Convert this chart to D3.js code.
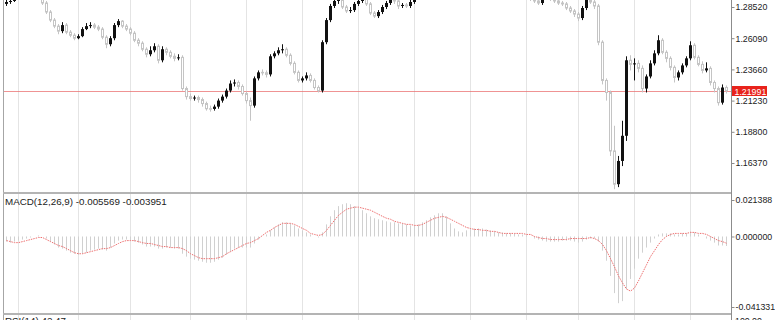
<!DOCTYPE html>
<html>
<head>
<meta charset="utf-8">
<script src="https://cdn.jsdelivr.net/npm/d3@7"></script>
<style>
  body { margin: 0; background: #fff; }
  svg { display: block; font-family: "Liberation Sans", Arial, sans-serif; }
</style>
</head>
<body>
<div id="chart"></div>
<script>
// daily candles, oldest -> newest
var opens = [
  1.2876, 1.2891, 1.2899, 1.2938, 1.2985, 1.3017, 1.3001, 1.3032, 1.2985, 1.2946,
  1.2883, 1.2813, 1.2750, 1.2703, 1.2664, 1.2711, 1.2656, 1.2632, 1.2609, 1.2625,
  1.2680, 1.2703, 1.2711, 1.2695, 1.2680, 1.2617, 1.2562, 1.2609, 1.2711, 1.2742,
  1.2703, 1.2680, 1.2648, 1.2593, 1.2570, 1.2523, 1.2484, 1.2515, 1.2546, 1.2437,
  1.2523, 1.2499, 1.2468, 1.2452, 1.2460, 1.2217, 1.2154, 1.2139, 1.2147, 1.2131,
  1.2100, 1.2060, 1.2058, 1.2076, 1.2123, 1.2154, 1.2201, 1.2256, 1.2264, 1.2233,
  1.2178, 1.2123, 1.2084, 1.2296, 1.2343, 1.2340, 1.2327, 1.2468, 1.2491, 1.2515,
  1.2523, 1.2476, 1.2413, 1.2343, 1.2280, 1.2296, 1.2319, 1.2280, 1.2225, 1.2201,
  1.2578, 1.2750, 1.2860, 1.2899, 1.2907, 1.2852, 1.2821, 1.2828, 1.2876, 1.2899,
  1.2915, 1.2876, 1.2805, 1.2781, 1.2813, 1.2852, 1.2883, 1.2907, 1.2899, 1.2860,
  1.2868, 1.2860, 1.2891, 1.2930, 1.2970, 1.3001, 1.3032, 1.3064, 1.3048, 1.3079,
  1.3025, 1.2985, 1.2938, 1.2930, 1.2977, 1.3017, 1.3056, 1.3095, 1.3072, 1.3111,
  1.3079, 1.3040, 1.3009, 1.3032, 1.2993, 1.2970, 1.3001, 1.2962, 1.2938, 1.2954,
  1.2930, 1.2923, 1.2915, 1.2899, 1.2883, 1.2923, 1.2938, 1.2915, 1.2899, 1.2883,
  1.2876, 1.2844, 1.2821, 1.2797, 1.2766, 1.2844, 1.2907, 1.2891, 1.2860, 1.2578,
  1.2280, 1.2186, 1.1731, 1.1472, 1.1653, 1.1849, 1.2437, 1.2405, 1.2413, 1.2374,
  1.2217, 1.2311, 1.2413, 1.2491, 1.2593, 1.2499, 1.2452, 1.2382, 1.2303, 1.2343,
  1.2397, 1.2452, 1.2554, 1.2460, 1.2405, 1.2358, 1.2374, 1.2264, 1.2217, 1.2107,
  1.2225
];
var highs = [
  1.2915, 1.2923, 1.2954, 1.3001, 1.3032, 1.3032, 1.3056, 1.3048, 1.3001, 1.2954,
  1.2899, 1.2828, 1.2766, 1.2719, 1.2734, 1.2727, 1.2672, 1.2648, 1.2640, 1.2695,
  1.2727, 1.2734, 1.2727, 1.2711, 1.2695, 1.2632, 1.2625, 1.2727, 1.2758, 1.2750,
  1.2719, 1.2695, 1.2664, 1.2609, 1.2585, 1.2538, 1.2546, 1.2570, 1.2562, 1.2546,
  1.2538, 1.2515, 1.2491, 1.2484, 1.2476, 1.2233, 1.2178, 1.2162, 1.2162, 1.2147,
  1.2115, 1.2084, 1.2092, 1.2139, 1.2170, 1.2217, 1.2280, 1.2288, 1.2280, 1.2249,
  1.2194, 1.2147, 1.2311, 1.2358, 1.2366, 1.2358, 1.2484, 1.2507, 1.2538, 1.2562,
  1.2538, 1.2491, 1.2429, 1.2358, 1.2311, 1.2343, 1.2335, 1.2296, 1.2241, 1.2593,
  1.2766, 1.2876, 1.2915, 1.2930, 1.2923, 1.2868, 1.2852, 1.2891, 1.2915, 1.2930,
  1.2930, 1.2891, 1.2821, 1.2828, 1.2868, 1.2899, 1.2923, 1.2923, 1.2915, 1.2883,
  1.2883, 1.2907, 1.2946, 1.2985, 1.3017, 1.3048, 1.3079, 1.3079, 1.3095, 1.3095,
  1.3040, 1.3001, 1.2954, 1.2993, 1.3032, 1.3072, 1.3111, 1.3111, 1.3126, 1.3126,
  1.3095, 1.3056, 1.3048, 1.3048, 1.3009, 1.3017, 1.3017, 1.2977, 1.2970, 1.2970,
  1.2946, 1.2938, 1.2930, 1.2915, 1.2938, 1.2954, 1.2954, 1.2930, 1.2915, 1.2899,
  1.2891, 1.2860, 1.2836, 1.2813, 1.2860, 1.2923, 1.2923, 1.2907, 1.2876, 1.2593,
  1.2296, 1.2201, 1.1927, 1.1692, 1.1966, 1.2468, 1.2476, 1.2452, 1.2437, 1.2397,
  1.2327, 1.2437, 1.2515, 1.2632, 1.2609, 1.2515, 1.2468, 1.2397, 1.2358, 1.2413,
  1.2468, 1.2585, 1.2570, 1.2476, 1.2429, 1.2421, 1.2390, 1.2280, 1.2233, 1.2249,
  1.2241
];
var lows = [
  1.2860, 1.2876, 1.2891, 1.2930, 1.2970, 1.2985, 1.2985, 1.2970, 1.2930, 1.2868,
  1.2797, 1.2734, 1.2687, 1.2640, 1.2648, 1.2640, 1.2617, 1.2593, 1.2601, 1.2617,
  1.2672, 1.2687, 1.2680, 1.2664, 1.2601, 1.2531, 1.2546, 1.2593, 1.2695, 1.2687,
  1.2664, 1.2632, 1.2578, 1.2546, 1.2507, 1.2460, 1.2468, 1.2499, 1.2413, 1.2421,
  1.2476, 1.2452, 1.2429, 1.2437, 1.2201, 1.2131, 1.2123, 1.2123, 1.2107, 1.2076,
  1.2045, 1.2037, 1.2045, 1.2060, 1.2107, 1.2139, 1.2186, 1.2233, 1.2209, 1.2162,
  1.2100, 1.1966, 1.2068, 1.2280, 1.2319, 1.2303, 1.2311, 1.2452, 1.2476, 1.2491,
  1.2460, 1.2397, 1.2327, 1.2264, 1.2264, 1.2280, 1.2264, 1.2209, 1.2186, 1.2186,
  1.2562, 1.2734, 1.2844, 1.2876, 1.2836, 1.2805, 1.2805, 1.2813, 1.2860, 1.2883,
  1.2860, 1.2789, 1.2766, 1.2766, 1.2797, 1.2836, 1.2868, 1.2876, 1.2836, 1.2844,
  1.2844, 1.2844, 1.2876, 1.2915, 1.2954, 1.2985, 1.3017, 1.3032, 1.3032, 1.3009,
  1.2970, 1.2915, 1.2915, 1.2915, 1.2962, 1.3001, 1.3040, 1.3056, 1.3056, 1.3064,
  1.3025, 1.2993, 1.2993, 1.2977, 1.2954, 1.2954, 1.2946, 1.2923, 1.2923, 1.2915,
  1.2907, 1.2899, 1.2883, 1.2868, 1.2868, 1.2907, 1.2899, 1.2883, 1.2868, 1.2860,
  1.2828, 1.2805, 1.2774, 1.2742, 1.2750, 1.2828, 1.2876, 1.2836, 1.2554, 1.2249,
  1.2123, 1.1692, 1.1433, 1.1449, 1.1613, 1.1809, 1.2358, 1.2280, 1.2343, 1.2186,
  1.2186, 1.2296, 1.2397, 1.2476, 1.2484, 1.2421, 1.2358, 1.2264, 1.2280, 1.2327,
  1.2382, 1.2437, 1.2444, 1.2390, 1.2335, 1.2343, 1.2241, 1.2186, 1.2084, 1.2092,
  1.2178
];
var closes = [
  1.2891, 1.2899, 1.2938, 1.2985, 1.3017, 1.3001, 1.3032, 1.2985, 1.2946, 1.2883,
  1.2813, 1.2750, 1.2703, 1.2664, 1.2711, 1.2656, 1.2632, 1.2609, 1.2625, 1.2680,
  1.2703, 1.2711, 1.2695, 1.2680, 1.2617, 1.2562, 1.2609, 1.2711, 1.2742, 1.2703,
  1.2680, 1.2648, 1.2593, 1.2570, 1.2523, 1.2484, 1.2515, 1.2546, 1.2437, 1.2523,
  1.2499, 1.2468, 1.2452, 1.2460, 1.2217, 1.2154, 1.2139, 1.2147, 1.2131, 1.2100,
  1.2060, 1.2058, 1.2076, 1.2123, 1.2154, 1.2201, 1.2256, 1.2264, 1.2233, 1.2178,
  1.2123, 1.2084, 1.2296, 1.2343, 1.2340, 1.2327, 1.2468, 1.2491, 1.2515, 1.2523,
  1.2476, 1.2413, 1.2343, 1.2280, 1.2296, 1.2319, 1.2280, 1.2225, 1.2201, 1.2578,
  1.2750, 1.2860, 1.2899, 1.2907, 1.2852, 1.2821, 1.2828, 1.2876, 1.2899, 1.2915,
  1.2876, 1.2805, 1.2781, 1.2813, 1.2852, 1.2883, 1.2907, 1.2899, 1.2860, 1.2868,
  1.2860, 1.2891, 1.2930, 1.2970, 1.3001, 1.3032, 1.3064, 1.3048, 1.3079, 1.3025,
  1.2985, 1.2938, 1.2930, 1.2977, 1.3017, 1.3056, 1.3095, 1.3072, 1.3111, 1.3079,
  1.3040, 1.3009, 1.3032, 1.2993, 1.2970, 1.3001, 1.2962, 1.2938, 1.2954, 1.2930,
  1.2923, 1.2915, 1.2899, 1.2883, 1.2923, 1.2938, 1.2915, 1.2899, 1.2883, 1.2876,
  1.2844, 1.2821, 1.2797, 1.2766, 1.2844, 1.2907, 1.2891, 1.2860, 1.2578, 1.2280,
  1.2186, 1.1731, 1.1472, 1.1653, 1.1849, 1.2437, 1.2405, 1.2413, 1.2374, 1.2217,
  1.2311, 1.2413, 1.2491, 1.2593, 1.2499, 1.2452, 1.2382, 1.2303, 1.2343, 1.2397,
  1.2452, 1.2554, 1.2460, 1.2405, 1.2358, 1.2374, 1.2264, 1.2217, 1.2107, 1.2225,
  1.21991
];

// MACD(12,26,9): main line (histogram) and signal
var macdMain = [
  -0.0030, -0.0036, -0.0030, -0.0024, -0.0018, -0.0012, -0.0006, 0, 0.0006, 0,
  -0.0012, -0.0030, -0.0047, -0.0065, -0.0071, -0.0083, -0.0095, -0.0101, -0.0107, -0.0101,
  -0.0095, -0.0083, -0.0077, -0.0071, -0.0077, -0.0083, -0.0065, -0.0041, -0.0024, -0.0018,
  -0.0018, -0.0024, -0.0030, -0.0036, -0.0047, -0.0059, -0.0059, -0.0059, -0.0071, -0.0071,
  -0.0065, -0.0065, -0.0071, -0.0071, -0.0101, -0.0118, -0.0130, -0.0136, -0.0142, -0.0148,
  -0.0154, -0.0154, -0.0148, -0.0136, -0.0124, -0.0107, -0.0089, -0.0071, -0.0065, -0.0065,
  -0.0065, -0.0065, -0.0041, -0.0018, 0, 0.0012, 0.0036, 0.0053, 0.0071, 0.0083,
  0.0083, 0.0077, 0.0065, 0.0047, 0.0036, 0.0024, 0.0012, 0, -0.0006, 0.0024,
  0.0071, 0.0118, 0.0154, 0.0178, 0.0189, 0.0195, 0.0189, 0.0178, 0.0166, 0.0154,
  0.0136, 0.0118, 0.0107, 0.0101, 0.0095, 0.0089, 0.0083, 0.0083, 0.0077, 0.0077,
  0.0071, 0.0065, 0.0065, 0.0071, 0.0083, 0.0095, 0.0112, 0.0124, 0.0136, 0.0136,
  0.0118, 0.0077, 0.0047, 0.0030, 0.0024, 0.0036, 0.0047, 0.0047, 0.0047, 0.0047,
  0.0041, 0.0036, 0.0030, 0.0024, 0.0024, 0.0018, 0.0018, 0.0018, 0.0012, 0.0012,
  0.0006, 0, -0.0012, -0.0018, -0.0024, -0.0030, -0.0030, -0.0030, -0.0030, -0.0024,
  -0.0024, -0.0024, -0.0030, -0.0036, -0.0030, -0.0018, -0.0012, -0.0012, -0.0030, -0.0083,
  -0.0142, -0.0231, -0.0332, -0.0391, -0.0379, -0.0308, -0.0249, -0.0189, -0.0130, -0.0095,
  -0.0065, -0.0036, -0.0012, 0.0012, 0.0018, 0.0018, 0.0018, 0.0012, 0.0012, 0.0018,
  0.0018, 0.0030, 0.0024, 0.0012, 0, -0.0012, -0.0024, -0.0036, -0.0053, -0.0053,
  -0.005569
];
var macdSignal = [
  -0.0024, -0.0030, -0.0036, -0.0036, -0.0030, -0.0024, -0.0018, -0.0012, -0.0006, -0.0006,
  -0.0018, -0.0030, -0.0041, -0.0053, -0.0059, -0.0071, -0.0083, -0.0095, -0.0101, -0.0101,
  -0.0095, -0.0089, -0.0083, -0.0077, -0.0071, -0.0071, -0.0065, -0.0053, -0.0041, -0.0030,
  -0.0024, -0.0024, -0.0024, -0.0030, -0.0036, -0.0041, -0.0041, -0.0047, -0.0053, -0.0059,
  -0.0059, -0.0065, -0.0065, -0.0065, -0.0071, -0.0083, -0.0101, -0.0112, -0.0124, -0.0130,
  -0.0130, -0.0130, -0.0130, -0.0124, -0.0118, -0.0101, -0.0089, -0.0077, -0.0065, -0.0053,
  -0.0041, -0.0036, -0.0024, -0.0012, 0.0006, 0.0024, 0.0036, 0.0053, 0.0065, 0.0077,
  0.0077, 0.0077, 0.0071, 0.0059, 0.0047, 0.0036, 0.0018, 0.0012, 0.0006, 0.0012,
  0.0036, 0.0065, 0.0095, 0.0124, 0.0142, 0.0160, 0.0166, 0.0172, 0.0172, 0.0166,
  0.0160, 0.0154, 0.0142, 0.0130, 0.0118, 0.0107, 0.0101, 0.0089, 0.0083, 0.0077,
  0.0071, 0.0071, 0.0065, 0.0065, 0.0071, 0.0083, 0.0095, 0.0107, 0.0112, 0.0118,
  0.0112, 0.0101, 0.0089, 0.0077, 0.0065, 0.0053, 0.0047, 0.0041, 0.0041, 0.0036,
  0.0036, 0.0030, 0.0030, 0.0024, 0.0018, 0.0018, 0.0018, 0.0018, 0.0018, 0.0018,
  0.0012, 0.0012, 0, -0.0006, -0.0012, -0.0012, -0.0018, -0.0018, -0.0018, -0.0018,
  -0.0018, -0.0012, -0.0012, -0.0012, -0.0012, -0.0012, -0.0006, -0.0012, -0.0024, -0.0047,
  -0.0083, -0.0130, -0.0178, -0.0231, -0.0272, -0.0308, -0.0320, -0.0302, -0.0260, -0.0213,
  -0.0166, -0.0118, -0.0083, -0.0047, -0.0018, 0, 0.0012, 0.0018, 0.0018, 0.0018,
  0.0018, 0.0024, 0.0024, 0.0018, 0.0018, 0.0012, 0, -0.0012, -0.0024, -0.0030,
  -0.003951
];

// axis labels
var priceTicks = [1.28520, 1.26090, 1.23660, 1.21230, 1.18800, 1.16370];
var macdTicks = [0.021388, 0.000000, -0.041331];
var gridBars = [3, 18, 31, 46, 60, 74, 88, 102, 116, 130, 143, 157, 171];
var macdTitle = "MACD(12,26,9) -0.005569 -0.003951";
var rsiTitle = "RSI(14) 42.47";
var rsiTop = "100.00";

var width = 775, height = 320,
    plotLeft = 3, axisX = 731,
    mainBottom = 193, macdBottom = 314;

var svg = d3.select("#chart").append("svg")
    .attr("width", width)
    .attr("height", height);

var x = d3.scaleLinear().domain([0, closes.length - 1]).range([6, 726]);
var yPrice = d3.scaleLinear().domain([1.16370, 1.28520]).range([163, 7]);
var yMacd = d3.scaleLinear().domain([-0.041331, 0.021388]).range([307, 200]);

function px(i) { return Math.round(x(i)); }

svg.append("defs").append("clipPath").attr("id", "clipMain")
  .append("rect").attr("x", plotLeft).attr("y", 0)
  .attr("width", axisX - plotLeft).attr("height", mainBottom);

// grid
svg.append("g").selectAll("line")
    .data(gridBars)
  .enter().append("line")
    .attr("x1", function(d) { return px(d) + 0.5; })
    .attr("x2", function(d) { return px(d) + 0.5; })
    .attr("y1", 0)
    .attr("y2", height)
    .style("stroke", "#e4e4e4");

// current price line
var last = closes[closes.length - 1];
var lastY = Math.round(yPrice(last)) + 0.5;
svg.append("line")
    .attr("x1", plotLeft).attr("x2", axisX)
    .attr("y1", lastY).attr("y2", lastY)
    .style("stroke", "#ea6f6f")
    .style("stroke-opacity", 0.75);

// candles
var idx = d3.range(closes.length);
var candles = svg.append("g").attr("clip-path", "url(#clipMain)")
    .selectAll("g").data(idx).enter().append("g");

candles.append("line")
    .attr("x1", function(i) { return px(i) + 0.5; })
    .attr("x2", function(i) { return px(i) + 0.5; })
    .attr("y1", function(i) { return yPrice(highs[i]); })
    .attr("y2", function(i) { return yPrice(lows[i]); })
    .style("stroke", function(i) { return closes[i] >= opens[i] ? "#111" : "#c4c4c4"; });

candles.filter(function(i) { return closes[i] >= opens[i]; })
  .append("rect")
    .attr("x", function(i) { return px(i) - 1; })
    .attr("width", 3)
    .attr("y", function(i) { return yPrice(closes[i]); })
    .attr("height", function(i) { return Math.max(1, yPrice(opens[i]) - yPrice(closes[i])); })
    .style("fill", "#111");

candles.filter(function(i) { return closes[i] < opens[i]; })
  .append("rect")
    .attr("x", function(i) { return px(i) - 0.5; })
    .attr("width", 2)
    .attr("y", function(i) { return yPrice(opens[i]); })
    .attr("height", function(i) { return Math.max(0.5, yPrice(closes[i]) - yPrice(opens[i])); })
    .style("fill", "#fff")
    .style("stroke", "#c4c4c4");

// MACD histogram
var zeroY = yMacd(0);
svg.append("g").selectAll("line")
    .data(idx)
  .enter().append("line")
    .attr("x1", function(i) { return px(i) + 0.5; })
    .attr("x2", function(i) { return px(i) + 0.5; })
    .attr("y1", zeroY)
    .attr("y2", function(i) { return yMacd(macdMain[i]); })
    .style("stroke", "#d0d0d0");

// MACD signal (dotted)
var signalLine = d3.line()
    .x(function(i) { return px(i) + 0.5; })
    .y(function(i) { return yMacd(macdSignal[i]); });

svg.append("path")
    .datum(idx)
    .attr("d", signalLine)
    .style("fill", "none")
    .style("stroke", "#ee7070")
    .style("stroke-dasharray", "1.5,1")
    .style("stroke-width", 1);

// frame
svg.append("line")
    .attr("x1", plotLeft + 0.5).attr("x2", plotLeft + 0.5)
    .attr("y1", 0).attr("y2", height)
    .style("stroke", "#a6a6a6");
svg.append("line")
    .attr("x1", axisX + 0.5).attr("x2", axisX + 0.5)
    .attr("y1", 0).attr("y2", height)
    .style("stroke", "#8c8c8c");
[mainBottom, macdBottom].forEach(function(yy) {
  svg.append("rect")
    .attr("x", plotLeft).attr("y", yy - 1)
    .attr("width", axisX - plotLeft).attr("height", 2)
    .style("fill", "#b4b4b4");
});

// axes
var priceAxis = d3.axisRight(yPrice)
    .tickValues(priceTicks)
    .tickSize(3)
    .tickPadding(1)
    .tickFormat(function(d) { return d.toFixed(5); });

var macdAxis = d3.axisRight(yMacd)
    .tickValues(macdTicks)
    .tickSize(3)
    .tickPadding(1)
    .tickFormat(function(d) { return d.toFixed(6); });

[priceAxis, macdAxis].forEach(function(a) {
  var g = svg.append("g")
      .attr("transform", "translate(" + (axisX + 0.5) + ",0)")
      .call(a);
  g.select(".domain").remove();
  g.selectAll("line").style("stroke", "#8c8c8c");
  g.selectAll("text")
      .style("font-family", "Liberation Sans, Arial, sans-serif")
      .style("font-size", "8.8px")
      .style("fill", "#222");
});

// current price tag
svg.append("rect")
    .attr("x", axisX + 1)
    .attr("y", lastY - 5.5)
    .attr("width", 35)
    .attr("height", 10)
    .style("fill", "#e8231c");
svg.append("text")
    .attr("x", axisX + 3.5)
    .attr("y", lastY + 3)
    .text(last.toFixed(5))
    .style("font-size", "8.8px")
    .style("fill", "#fff");

// panel titles
svg.append("text")
    .attr("x", 5)
    .attr("y", 205)
    .text(macdTitle)
    .style("font-size", "9.8px")
    .style("fill", "#222");

svg.append("text")
    .attr("x", 5)
    .attr("y", 323.5)
    .text(rsiTitle)
    .style("font-size", "9.8px")
    .style("fill", "#222");

svg.append("text")
    .attr("x", axisX + 4)
    .attr("y", 323.5)
    .text(rsiTop)
    .style("font-size", "8.8px")
    .style("fill", "#222");
</script>
</body>
</html>
